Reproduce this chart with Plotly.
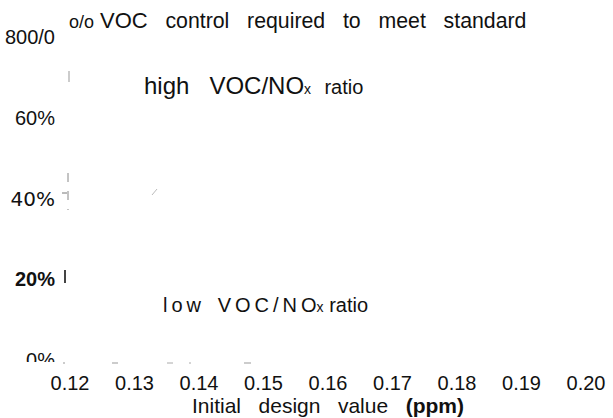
import plotly.graph_objects as go

# ---- data / labels ----
x_tick_values = [0.12, 0.13, 0.14, 0.15, 0.16, 0.17, 0.18, 0.19, 0.20]
x_tick_labels = ["0.12", "0.13", "0.14", "0.15", "0.16", "0.17", "0.18", "0.19", "0.20"]
y_tick_values = [0, 20, 40, 60, 80]
y_tick_labels = ["0%", "<b>20%</b>", "<span style='font-family:DejaVu Sans'>40%</span>", "60%", "800/0"]
x_range = [0.12, 0.20]
y_range = [0, 80]

# ---- layout geometry ----
W, H = 613, 418
L, R, T, B = 70, 27, 37, 58
PW, PH = W - L - R, H - T - B


def px(x):
    return (x - L) / PW


def py(y):
    return (H - B - y) / PH


THIN = "\u2009"
NB = "\u00a0"


def spaced(s):
    return THIN.join(list(s))


fig = go.Figure()
fig.add_trace(go.Scatter(x=[], y=[], mode="lines", showlegend=False))

font_main = "Liberation Sans, Arial, sans-serif"

fig.update_layout(
    width=W, height=H,
    margin=dict(l=L, r=R, t=T, b=B, pad=0),
    paper_bgcolor="white", plot_bgcolor="white",
    showlegend=False,
    font=dict(family=font_main, color="#111", size=18),
    xaxis=dict(
        range=x_range, tickmode="array", tickvals=x_tick_values,
        ticktext=x_tick_labels, automargin=False,
        showgrid=False, zeroline=False, showline=False, ticks="",
        tickfont=dict(size=20, color="#111"),
        ticklabelstandoff=9,
        title=dict(text="Initial" + NB * 3 + "design" + NB * 3 + "value" + NB * 3 + "<b>(ppm)</b>",
                   font=dict(size=21, color="#111"), standoff=0),
    ),
    yaxis=dict(
        range=y_range, tickmode="array", tickvals=y_tick_values,
        ticktext=y_tick_labels, automargin=False,
        showgrid=False, zeroline=False, showline=False, ticks="",
        tickfont=dict(size=20, color="#111", family="Liberation Sans Narrow, Liberation Sans, Arial"),
        ticklabelstandoff=14,
    ),
)

annotations = [
    dict(x=px(67), y=py(20),
         text="<span style='font-size:18px'>o/o</span>" + NB + "<span style='font-size:22px'>VOC</span>"
              + NB * 3 + "control" + NB * 3 + "required" + NB * 3 + "to" + NB * 3 + "meet" + NB * 3 + "standard",
         font=dict(size=21.3, color="#111")),
    dict(x=px(142), y=py(85),
         text="high" + NB * 3 + "VOC/NO" + "<span style='font-size:14px'>x</span>" + NB * 2
              + "<span style='font-size:20px'>ratio</span>",
         font=dict(size=24, color="#111")),
    dict(x=px(161), y=py(305),
         text=spaced("low") + NB * 3 + spaced("VOC/NO") + "<span style='font-size:14px'>x</span>" + NB
              + "<span style='font-size:20px'>ratio</span>",
         font=dict(size=20, color="#111")),
]
for a in annotations:
    a.update(xref="paper", yref="paper", xanchor="left", yanchor="middle", showarrow=False)
fig.update_layout(annotations=annotations)

# faint remnants of axis lines in the scan
marks = [
    (69, 71, 69, 82, "#999", 1, "solid"),
    (68, 173, 68, 210, "#888", 1, "dash"),
    (62, 193, 67, 193, "#777", 1, "solid"),
    (152, 195, 157, 189, "#bbb", 1, "solid"),
    (65, 270, 65, 283, "#444", 2, "solid"),
    (63, 363, 65, 363, "#999", 1, "solid"),
    (112, 363, 118, 363, "#999", 1, "solid"),
    (167, 363, 173, 363, "#aaa", 1, "solid"),
    (189, 363, 191, 363, "#aaa", 1, "solid"),
    (244, 363, 251, 363, "#999", 1, "solid"),
]
shapes = []
for x0, y0, x1, y1, c, w, d in marks:
    shapes.append(dict(type="line", xref="paper", yref="paper",
                       x0=px(x0), y0=py(y0), x1=px(x1), y1=py(y1),
                       line=dict(color=c, width=w, dash=d)))
# the scan cuts off the lower part of the "0%" label
shapes.append(dict(type="rect", xref="paper", yref="paper", layer="above",
                   x0=px(0), x1=px(60), y0=py(371), y1=py(362),
                   fillcolor="white", line=dict(width=0)))
fig.update_layout(shapes=shapes)

fig.write_html("out.html", config={"displayModeBar": False},
               post_script="document.body.style.margin='0';document.body.style.padding='0';")
